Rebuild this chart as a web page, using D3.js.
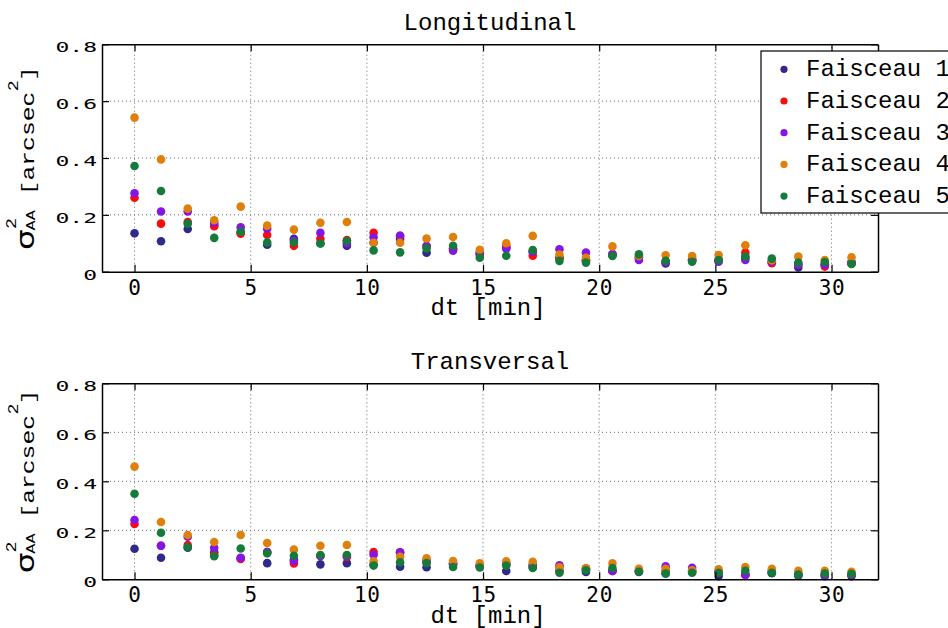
<!DOCTYPE html>
<html>
<head>
<meta charset="utf-8">
<script src="https://cdn.jsdelivr.net/npm/d3@7"></script>
<style>
  body { margin: 0; background: #fff; }
  svg { display: block; }
</style>
</head>
<body>
<script>
// ---------------- data ----------------
const dt = [0.00, 1.14, 2.29, 3.43, 4.57, 5.71, 6.86, 8.00, 9.14, 10.29, 11.43, 12.57, 13.71, 14.86,
            16.00, 17.14, 18.29, 19.43, 20.57, 21.71, 22.86, 24.00, 25.14, 26.29, 27.43, 28.57, 29.71, 30.86];

const seriesNames = ["Faisceau 1", "Faisceau 2", "Faisceau 3", "Faisceau 4", "Faisceau 5"];
const seriesColors = ["#2f2a8a", "#ff0a0a", "#8316e6", "#e0800c", "#167a3c"];

const xTicks = [0, 5, 10, 15, 20, 25, 30];
const yTicks = [0, 0.2, 0.4, 0.6, 0.8];
const yTickLabels = ["0", "0.2", "0.4", "0.6", "0.8"];

// Longitudinal
const long1 = [0.135, 0.107, 0.150, 0.165, 0.137, 0.095, 0.116, 0.100, 0.091, 0.103, 0.115, 0.067, 0.080, 0.060,
               0.085, 0.070, 0.050, 0.040, 0.060, 0.050, 0.029, 0.040, 0.040, 0.050, 0.035, 0.015, 0.025, 0.030];
const long2 = [0.260, 0.169, 0.175, 0.160, 0.134, 0.129, 0.091, 0.116, 0.111, 0.137, 0.126, 0.090, 0.082, 0.065,
               0.090, 0.056, 0.048, 0.040, 0.060, 0.050, 0.035, 0.045, 0.040, 0.067, 0.030, 0.025, 0.018, 0.030];
const long3 = [0.276, 0.212, 0.212, 0.172, 0.156, 0.151, 0.110, 0.137, 0.100, 0.121, 0.126, 0.090, 0.074, 0.067,
               0.081, 0.070, 0.079, 0.067, 0.062, 0.041, 0.033, 0.040, 0.035, 0.041, 0.035, 0.025, 0.025, 0.035];
const long4 = [0.542, 0.395, 0.222, 0.181, 0.229, 0.162, 0.148, 0.172, 0.175, 0.102, 0.102, 0.117, 0.122, 0.077,
               0.100, 0.126, 0.060, 0.049, 0.089, 0.055, 0.058, 0.055, 0.059, 0.093, 0.040, 0.053, 0.041, 0.051];
const long5 = [0.372, 0.284, 0.169, 0.119, 0.141, 0.103, 0.103, 0.099, 0.108, 0.075, 0.068, 0.082, 0.091, 0.049,
               0.056, 0.076, 0.038, 0.032, 0.055, 0.061, 0.038, 0.035, 0.041, 0.053, 0.046, 0.032, 0.034, 0.027];

// Transversal
const trans1 = [0.125, 0.088, 0.129, 0.110, 0.086, 0.066, 0.080, 0.061, 0.066, 0.060, 0.051, 0.049, 0.060, 0.055,
                0.034, 0.050, 0.035, 0.030, 0.035, 0.030, 0.025, 0.030, 0.013, 0.020, 0.025, 0.015, 0.015, 0.013];
const trans2 = [0.226, 0.137, 0.140, 0.100, 0.083, 0.111, 0.065, 0.095, 0.091, 0.111, 0.110, 0.075, 0.065, 0.055,
                0.060, 0.055, 0.050, 0.045, 0.034, 0.035, 0.035, 0.035, 0.030, 0.018, 0.035, 0.020, 0.020, 0.020];
const trans3 = [0.242, 0.137, 0.174, 0.129, 0.088, 0.111, 0.075, 0.095, 0.095, 0.100, 0.110, 0.075, 0.065, 0.055,
                0.065, 0.060, 0.057, 0.040, 0.034, 0.035, 0.053, 0.047, 0.030, 0.018, 0.030, 0.020, 0.013, 0.020];
const trans4 = [0.460, 0.234, 0.181, 0.152, 0.181, 0.148, 0.121, 0.137, 0.140, 0.073, 0.092, 0.086, 0.075, 0.065,
                0.073, 0.071, 0.049, 0.045, 0.065, 0.043, 0.043, 0.037, 0.041, 0.050, 0.043, 0.035, 0.035, 0.031];
const trans5 = [0.349, 0.190, 0.132, 0.094, 0.126, 0.106, 0.096, 0.099, 0.099, 0.056, 0.069, 0.066, 0.050, 0.048,
                0.056, 0.046, 0.027, 0.037, 0.046, 0.031, 0.023, 0.027, 0.027, 0.035, 0.027, 0.019, 0.023, 0.022];

const panels = [
  { title: "Longitudinal", series: [long1, long2, long3, long4, long5], top: 44.3, bottom: 271.7, legend: true },
  { title: "Transversal",  series: [trans1, trans2, trans3, trans4, trans5], top: 383.3, bottom: 579.3, legend: false }
];

// ---------------- drawing ----------------
const W = 948, H = 628;
const monoSerif = "'Liberation Mono', 'Courier New', monospace";
const monoSans = "'DejaVu Sans Mono', monospace";

const svg = d3.select("body").append("svg").attr("width", W).attr("height", H);

const x = d3.scaleLinear().domain([-1.4, 32]).range([102, 878]);

panels.forEach(p => {
  const y = d3.scaleLinear().domain([0, 0.8]).range([p.bottom, p.top]);
  const g = svg.append("g");

  // grid
  g.append("g").selectAll("line").data(xTicks).join("line")
    .attr("x1", d => x(d)).attr("x2", d => x(d))
    .attr("y1", y(0)).attr("y2", y(0.8))
    .attr("stroke", "#6a6a6a").attr("stroke-width", 1).attr("stroke-dasharray", "1,3");
  g.append("g").selectAll("line").data(yTicks.slice(1, -1)).join("line")
    .attr("x1", x.range()[0]).attr("x2", x.range()[1])
    .attr("y1", d => y(d)).attr("y2", d => y(d))
    .attr("stroke", "#6a6a6a").attr("stroke-width", 1).attr("stroke-dasharray", "1,3");

  // points
  p.series.forEach((vals, si) => {
    g.append("g").selectAll("circle").data(vals).join("circle")
      .attr("cx", (d, i) => x(dt[i]))
      .attr("cy", d => y(d))
      .attr("r", 4.3)
      .attr("fill", seriesColors[si]);
  });

  // axes
  const axB = g.append("g").attr("transform", `translate(0,${y(0)})`)
    .call(d3.axisBottom(x).tickValues(xTicks).tickSize(-7).tickSizeOuter(0).tickFormat(d3.format("d")));
  axB.selectAll("text")
    .attr("y", 23).attr("dy", null)
    .attr("font-family", monoSans).attr("font-size", 21)
    .style("letter-spacing", "0.7px")
    .attr("fill", "#000");

  g.append("g").attr("transform", `translate(0,${y(0.8)})`)
    .call(d3.axisTop(x).tickValues(xTicks).tickSize(-7).tickSizeOuter(0).tickFormat(""));

  const axL = g.append("g").attr("transform", `translate(${x.range()[0]},0)`)
    .call(d3.axisLeft(y).tickValues(yTicks).tickSize(-7).tickSizeOuter(0)
      .tickFormat((d, i) => yTickLabels[i]));
  axL.selectAll("text")
    .attr("x", -5).attr("dy", null)
    .attr("y", 11.5)
    .attr("transform", "scale(1,0.64)")
    .attr("font-family", monoSans).attr("font-size", 23)
    .attr("text-anchor", "end")
    .attr("fill", "#000");

  g.append("g").attr("transform", `translate(${x.range()[1]},0)`)
    .call(d3.axisRight(y).tickValues(yTicks).tickSize(-7).tickSizeOuter(0).tickFormat(""));

  g.selectAll(".domain").attr("stroke", "#000").attr("stroke-width", 1.5);
  g.selectAll(".tick line").attr("stroke", "#000").attr("stroke-width", 1.2);

  // title
  g.append("text")
    .attr("x", (x.range()[0] + x.range()[1]) / 2).attr("y", p.top - 14)
    .attr("text-anchor", "middle")
    .attr("font-family", monoSerif).attr("font-size", 24).attr("fill", "#000")
    .text(p.title);

  // x label
  g.append("text")
    .attr("x", 488).attr("y", p.bottom + 43.5)
    .attr("text-anchor", "middle")
    .attr("font-family", monoSerif).attr("font-size", 24).attr("fill", "#000")
    .text("dt [min]");

  // y label (rotated)
  const yc = (p.top + p.bottom) / 2;
  const stretch = 1.3;
  const totalLen = 141.4 * stretch;
  const lab = g.append("g")
    .attr("transform", `translate(33.5,${yc + totalLen / 2}) rotate(-90) scale(${stretch},1)`)
    .attr("fill", "#000");
  lab.append("text").attr("x", 0).attr("y", 0)
    .attr("font-family", "'DejaVu Sans', sans-serif").attr("font-size", 25).text("σ");
  lab.append("text").attr("x", 16).attr("y", -17.5)
    .attr("font-family", monoSerif).attr("font-size", 14).text("2");
  lab.append("text").attr("x", 15).attr("y", 1.5)
    .attr("font-family", monoSerif).attr("font-size", 13).text("AA");
  lab.append("text").attr("x", 42).attr("y", 0)
    .attr("font-family", monoSerif).attr("font-size", 19).text("[arcsec");
  lab.append("text").attr("x", 122).attr("y", -16)
    .attr("font-family", monoSerif).attr("font-size", 14).text("2");
  lab.append("text").attr("x", 130).attr("y", 0)
    .attr("font-family", monoSerif).attr("font-size", 19).text("]");

  // legend
  if (p.legend) {
    const lg = svg.append("g");
    lg.append("rect")
      .attr("x", 761).attr("y", 51).attr("width", 260).attr("height", 162)
      .attr("fill", "#fff").attr("stroke", "#000").attr("stroke-width", 1.2);
    seriesNames.forEach((name, i) => {
      const cy = 69.3 + i * 31.7;
      lg.append("circle").attr("cx", 784).attr("cy", cy).attr("r", 3.6).attr("fill", seriesColors[i]);
      lg.append("text").attr("x", 806).attr("y", cy + 6.8)
        .attr("font-family", monoSerif).attr("font-size", 24).attr("fill", "#000")
        .text(name);
    });
  }
});
</script>
</body>
</html>
